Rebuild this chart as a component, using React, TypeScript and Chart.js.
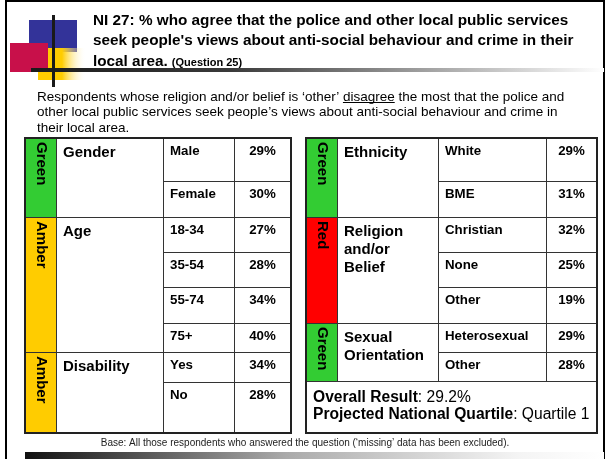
import React, { useEffect, useRef } from "react";
import { Chart, registerables } from "chart.js";

Chart.register(...registerables);

// ---------------- data ----------------
const titleLines = [
  "NI 27: % who agree that the police and other local public services",
  "seek people's views about anti-social behaviour and crime in their",
  "local area.",
];
const titleSuffix = "(Question 25)";
const summaryLines = [
  ["Respondents whose religion and/or belief is \u2018other\u2019 ", "disagree", " the most that the police and"],
  ["other local public services seek people\u2019s views about anti-social behaviour and crime in", "", ""],
  ["their local area.", "", ""],
];
const leftGroups = [["Gender"], ["Age"], ["Disability"]];
const leftStatus = ["Green", "Amber", "Amber"];
const leftSubgroups = [["Male", "Female"], ["18-34", "35-54", "55-74", "75+"], ["Yes", "No"]];
const leftValues = [[29, 30], [27, 28, 34, 40], [34, 28]];

const rightGroups = [["Ethnicity"], ["Religion", "and/or", "Belief"], ["Sexual", "Orientation"]];
const rightStatus = ["Green", "Red", "Green"];
const rightSubgroups = [["White", "BME"], ["Christian", "None", "Other"], ["Heterosexual", "Other"]];
const rightValues = [[29, 31], [32, 25, 19], [29, 28]];

const overallResult = "29.2%";
const nationalQuartile = "Quartile 1";
const baseNote = "Base: All those respondents who answered the question (\u2018missing\u2019 data has been excluded).";

// ---------------- layout / style ----------------
const W = 611;
const H = 459;
const FONT = "'Liberation Sans', Arial, sans-serif";
const STATUS_COLORS: Record<string, string> = { Green: "#33cc33", Amber: "#ffcc00", Red: "#ff0000" };
const LEFT_COLS = [25, 56, 163, 234, 291];
const RIGHT_COLS = [306, 337, 438, 546, 597];
const LEFT_ROWS = [138, 181, 217, 252, 287, 323, 352, 382, 433];
const RIGHT_ROWS = [138, 181, 217, 252, 287, 323, 352, 381];
const TABLE_BOTTOM = 433;

const slidePlugin = {
  id: "slide",
  beforeDraw(chart: any) {
    const ctx = chart.ctx;
    ctx.save();
    ctx.fillStyle = "#ffffff";
    ctx.fillRect(0, 0, chart.width, chart.height);
    ctx.restore();
  },
  afterDraw(chart: any) {
    const ctx: CanvasRenderingContext2D = chart.ctx;
    const xs = chart.scales.x;
    const ys = chart.scales.y;
    const px = (v: number) => xs.getPixelForValue(v);
    const py = (v: number) => ys.getPixelForValue(v);

    ctx.save();
    // frame
    ctx.strokeStyle = "#000";
    ctx.lineWidth = 2;
    ctx.strokeRect(px(6), py(1), px(604) - px(6), py(480) - py(1));

    // logo
    ctx.fillStyle = "#333399";
    ctx.fillRect(px(29), py(20), 48, 32);
    const yg = ctx.createLinearGradient(px(38), 0, px(86), 0);
    yg.addColorStop(0, "#ffcc00");
    yg.addColorStop(0.5, "#ffcc00");
    yg.addColorStop(1, "rgba(255,255,255,0)");
    ctx.fillStyle = yg;
    ctx.fillRect(px(38), py(48), 48, 32);
    ctx.fillStyle = "#c8104a";
    ctx.fillRect(px(10), py(43), 38, 29);
    const lg = ctx.createLinearGradient(px(31), 0, px(604), 0);
    lg.addColorStop(0, "#1a1a1a");
    lg.addColorStop(0.35, "#3a3a3a");
    lg.addColorStop(1, "#ffffff");
    ctx.fillStyle = lg;
    ctx.fillRect(px(31), py(68), px(604) - px(31), 4);
    ctx.fillStyle = "#1a1a1a";
    ctx.fillRect(px(52), py(15), 3, 72);

    // title
    ctx.fillStyle = "#000";
    ctx.textAlign = "left";
    ctx.textBaseline = "alphabetic";
    ctx.font = `bold 15.3px ${FONT}`;
    const tb = [25, 45, 66];
    titleLines.forEach((t, i) => ctx.fillText(t, px(93), py(tb[i])));
    const lastW = ctx.measureText(titleLines[2]).width;
    ctx.font = `bold 11px ${FONT}`;
    ctx.fillText(titleSuffix, px(93) + lastW + 4, py(66));

    // summary paragraph
    ctx.font = `13.5px ${FONT}`;
    const sb = [100.5, 116, 131.5];
    summaryLines.forEach((parts, i) => {
      let x = px(37);
      parts.forEach((p, j) => {
        if (!p) return;
        ctx.fillText(p, x, py(sb[i]));
        const w = ctx.measureText(p).width;
        if (j === 1) {
          ctx.fillRect(x, py(sb[i]) + 1.5, w, 1);
        }
        x += w;
      });
    });

    const drawTable = (
      cols: number[],
      rows: number[],
      groups: string[][],
      status: string[],
      subs: string[][],
      vals: number[][],
      bottom: number
    ) => {
      let r = 0;
      const top = rows[0];
      groups.forEach((g, gi) => {
        const n = subs[gi].length;
        const gTop = rows[r];
        const gBot = rows[r + n];
        ctx.fillStyle = STATUS_COLORS[status[gi]];
        ctx.fillRect(px(cols[0]), py(gTop), px(cols[1]) - px(cols[0]), py(gBot) - py(gTop));
        // status text rotated
        ctx.save();
        ctx.fillStyle = "#000";
        ctx.font = `bold 15px ${FONT}`;
        ctx.translate(px((cols[0] + cols[1]) / 2) + 0.5, py(gTop + 4));
        ctx.rotate(Math.PI / 2);
        ctx.textAlign = "left";
        ctx.textBaseline = "middle";
        ctx.fillText(status[gi], 0, 0);
        ctx.restore();
        // category
        ctx.fillStyle = "#000";
        ctx.font = `bold 15px ${FONT}`;
        ctx.textAlign = "left";
        g.forEach((line, li) => ctx.fillText(line, px(cols[1] + 7), py(gTop + 18.5 + li * 18)));
        // subgroups
        subs[gi].forEach((s, si) => {
          const rt = rows[r + si];
          ctx.font = `bold 13.3px ${FONT}`;
          ctx.textAlign = "left";
          ctx.fillText(s, px(cols[2] + 7), py(rt + 17));
          ctx.textAlign = "center";
          ctx.fillText(`${vals[gi][si]}%`, px((cols[3] + cols[4]) / 2), py(rt + 17));
          if (si > 0) {
            ctx.fillStyle = "#333";
            ctx.fillRect(px(cols[2]), py(rt), px(cols[4]) - px(cols[2]), 1);
            ctx.fillStyle = "#000";
          }
        });
        if (gi > 0) {
          ctx.fillStyle = "#333";
          ctx.fillRect(px(cols[0]), py(gTop), px(cols[4]) - px(cols[0]), 1);
        }
        r += n;
      });
      const gridBottom = rows[rows.length - 1];
      ctx.fillStyle = "#333";
      for (let c = 1; c <= 3; c++) {
        ctx.fillRect(px(cols[c]), py(top), 1, py(gridBottom) - py(top));
      }
      if (gridBottom < bottom) {
        ctx.fillRect(px(cols[0]), py(gridBottom), px(cols[4]) - px(cols[0]), 1);
      }
      ctx.strokeStyle = "#222";
      ctx.lineWidth = 2;
      ctx.strokeRect(px(cols[0]), py(top), px(cols[4]) - px(cols[0]), py(bottom) - py(top));
    };

    drawTable(LEFT_COLS, LEFT_ROWS, leftGroups, leftStatus, leftSubgroups, leftValues, TABLE_BOTTOM);
    drawTable(RIGHT_COLS, RIGHT_ROWS, rightGroups, rightStatus, rightSubgroups, rightValues, TABLE_BOTTOM);

    // overall result
    ctx.fillStyle = "#000";
    ctx.textAlign = "left";
    const ox = px(RIGHT_COLS[0] + 7);
    const line = (bold: string, reg: string, y: number) => {
      ctx.font = `bold 15.6px ${FONT}`;
      ctx.fillText(bold, ox, py(y));
      const w = ctx.measureText(bold).width;
      ctx.font = `15.6px ${FONT}`;
      ctx.fillText(reg, ox + w, py(y));
    };
    line("Overall Result", `: ${overallResult}`, 402);
    line("Projected National Quartile", `: ${nationalQuartile}`, 419);

    // base note
    ctx.font = `10px ${FONT}`;
    ctx.textAlign = "center";
    ctx.fillStyle = "#222";
    ctx.fillText(baseNote, px(305), py(446));

    // bottom bar
    const bg = ctx.createLinearGradient(px(25), 0, px(604), 0);
    bg.addColorStop(0, "#111");
    bg.addColorStop(0.45, "#aaa");
    bg.addColorStop(0.85, "#f4f4f4");
    bg.addColorStop(1, "#fff");
    ctx.fillStyle = bg;
    ctx.fillRect(px(25), py(452), px(604) - px(25), 7);
    ctx.restore();
  },
};

export default function App() {
  const ref = useRef<HTMLCanvasElement | null>(null);
  useEffect(() => {
    if (!ref.current) return;
    const chart = new Chart(ref.current, {
      type: "scatter",
      data: { datasets: [{ data: [], showLine: false }] },
      options: {
        responsive: false,
        animation: false,
        layout: { padding: 0 },
        plugins: { legend: { display: false }, tooltip: { enabled: false } },
        scales: {
          x: { type: "linear", min: 0, max: W, display: false },
          y: { type: "linear", min: 0, max: H, reverse: true, display: false },
        },
      },
      plugins: [slidePlugin],
    });
    return () => chart.destroy();
  }, []);
  return (
    <div style={{ position: "absolute", left: 0, top: 0, width: W, height: H, background: "#fff" }}>
      <canvas ref={ref} width={W} height={H} style={{ display: "block", width: W, height: H }} />
    </div>
  );
}
